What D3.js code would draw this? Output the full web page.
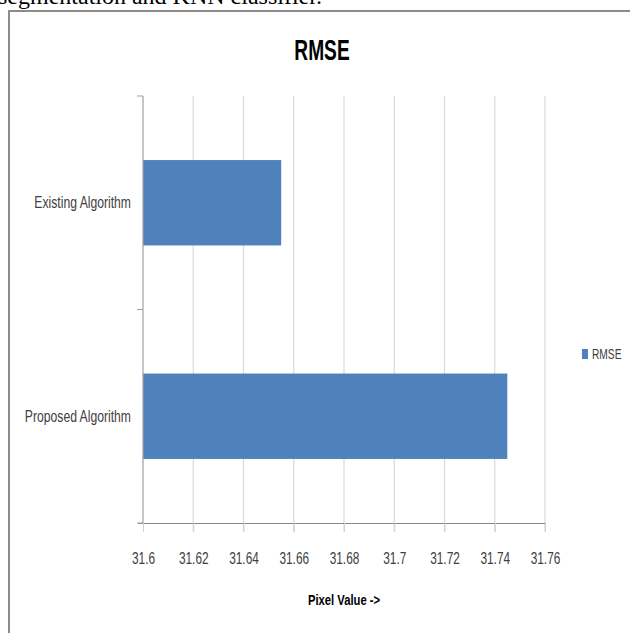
<!DOCTYPE html>
<html>
<head>
<meta charset="utf-8">
<script src="https://cdn.jsdelivr.net/npm/d3@7"></script>
<style>
  body { margin: 0; background: #fff; }
  svg { display: block; }
</style>
</head>
<body>
<div id="chart"></div>
<script>
// chart data
const categories = ['Existing Algorithm', 'Proposed Algorithm'];
const rmseValues = [31.655, 31.745];
const xTicks = [31.6, 31.62, 31.64, 31.66, 31.68, 31.7, 31.72, 31.74, 31.76];
const seriesName = 'RMSE';

const width = 630;
const height = 633;
const sans = '"Liberation Sans", Arial, sans-serif';

const svg = d3.select('#chart').append('svg')
  .attr('width', width)
  .attr('height', height);

// squeeze text horizontally to mimic the narrow Calibri look
function condense(sel, factor) {
  sel.each(function() {
    const len = this.getComputedTextLength();
    d3.select(this)
      .attr('textLength', len * factor)
      .attr('lengthAdjust', 'spacingAndGlyphs');
  });
}

// cut-off caption line from the page above the chart
svg.append('text')
  .attr('x', -2)
  .attr('y', 4)
  .style('font-family', '"Liberation Serif", "Times New Roman", serif')
  .style('font-size', '24px')
  .style('fill', '#000')
  .text('segmentation and KNN classifier.');

// chart frame (left + top visible)
svg.append('path')
  .attr('d', 'M9,640 L9,11 L640,11')
  .style('fill', 'none')
  .style('stroke', '#8c8c8c')
  .style('stroke-width', 2);

// scales
const xScale = d3.scaleLinear().domain([31.6, 31.76]).range([143, 545]);
const yScale = d3.scaleBand().domain(categories).range([96, 523])
  .paddingInner(0.6).paddingOuter(0.3);
const yEdge = d3.scaleLinear().domain([0, categories.length]).range([96, 523]);

// vertical gridlines (extend below the axis as ticks)
svg.append('g')
  .selectAll('line')
  .data(xTicks.slice(1))
  .enter()
  .append('line')
  .attr('x1', d => xScale(d)).attr('x2', d => xScale(d))
  .attr('y1', 96).attr('y2', 532)
  .style('stroke', '#d9d9d9')
  .style('stroke-width', 1.2);

// bars
svg.append('g')
  .selectAll('rect')
  .data(categories)
  .enter()
  .append('rect')
  .attr('x', xScale(31.6))
  .attr('y', d => yScale(d))
  .attr('width', (d, i) => xScale(rmseValues[i]) - xScale(31.6))
  .attr('height', yScale.bandwidth())
  .style('fill', '#4f81bd');

// x axis
const xAxis = d3.axisBottom(xScale).tickValues(xTicks).tickSize(9).tickSizeOuter(0)
  .tickFormat(d => String(+d.toFixed(2)));
const gx = svg.append('g')
  .attr('transform', 'translate(0,523)')
  .call(xAxis);
gx.select('.domain').attr('d', 'M138.5,0.5H545').style('stroke', '#868686');
gx.selectAll('.tick line').style('stroke', '#d0d0d0');
gx.selectAll('.tick text')
  .attr('dy', '0')
  .attr('y', 41)
  .style('font-family', sans)
  .style('font-size', '16px')
  .style('fill', '#404040')
  .call(condense, 0.74);

// y axis line with category boundary ticks
svg.append('line')
  .attr('x1', 143).attr('x2', 143)
  .attr('y1', 96).attr('y2', 523)
  .style('stroke', '#a0a0a0')
  .style('stroke-width', 1.2);
svg.append('g')
  .selectAll('line')
  .data(d3.range(categories.length + 1))
  .enter()
  .append('line')
  .attr('x1', 137).attr('x2', 143)
  .attr('y1', d => yEdge(d)).attr('y2', d => yEdge(d))
  .style('stroke', '#a0a0a0');

// category labels
svg.append('g')
  .selectAll('text')
  .data(categories)
  .enter()
  .append('text')
  .attr('x', 131)
  .attr('y', d => yScale(d) + yScale.bandwidth() / 2)
  .attr('dy', '0.35em')
  .attr('text-anchor', 'end')
  .style('font-family', sans)
  .style('font-size', '16px')
  .style('fill', '#404040')
  .text(d => d)
  .call(condense, 0.76);

// title
svg.append('text')
  .attr('x', 322)
  .attr('y', 60)
  .attr('text-anchor', 'middle')
  .style('font-family', sans)
  .style('font-size', '29px')
  .style('font-weight', 'bold')
  .style('fill', '#000')
  .text('RMSE')
  .call(condense, 0.66);

// axis title
svg.append('text')
  .attr('x', 344)
  .attr('y', 605)
  .attr('text-anchor', 'middle')
  .style('font-family', sans)
  .style('font-size', '15px')
  .style('font-weight', 'bold')
  .style('fill', '#000')
  .text('Pixel Value ->')
  .call(condense, 0.75);

// legend
const legend = svg.append('g').attr('transform', 'translate(582,349)');
legend.append('rect')
  .attr('width', 6).attr('height', 10)
  .style('fill', '#4f81bd');
legend.append('text')
  .attr('x', 10).attr('y', 5)
  .attr('dy', '0.35em')
  .style('font-family', sans)
  .style('font-size', '15px')
  .style('fill', '#404040')
  .text(seriesName)
  .call(condense, 0.68);
</script>
</body>
</html>
